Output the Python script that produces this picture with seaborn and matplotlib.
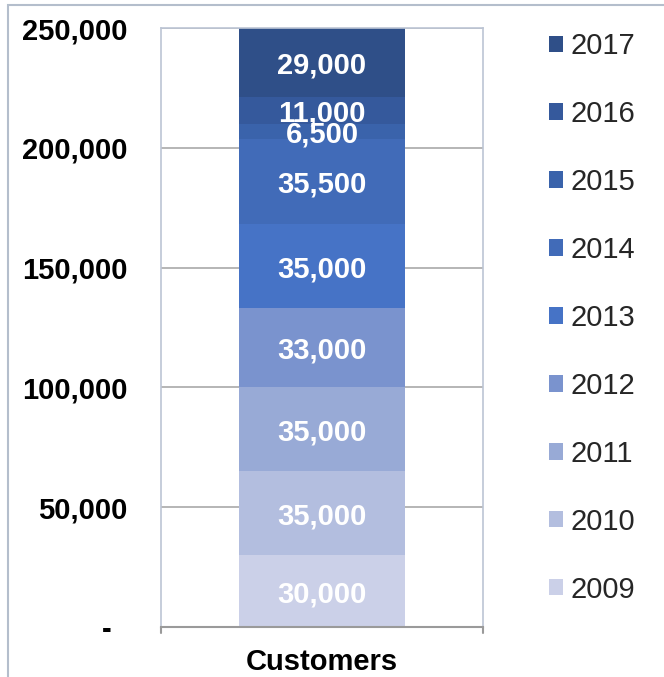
import matplotlib
matplotlib.use("Agg")
import matplotlib.pyplot as plt
from matplotlib.patches import Patch, Rectangle
from matplotlib.ticker import FuncFormatter, MultipleLocator
import seaborn as sns
import pandas as pd

# Customers added per year, stacked bottom (2009) to top (2017)
years = ["2009", "2010", "2011", "2012", "2013", "2014", "2015", "2016", "2017"]
customers = [30000, 35000, 35000, 33000, 35000, 35500, 6500, 11000, 29000]
category = "Customers"
colors = ["#CBD0E8", "#B3BEDF", "#98AAD6", "#7A93CE", "#4673C6",
          "#416BB8", "#3A63AB", "#35599C", "#2F4F88"]

sns.set_theme(style="white")
plt.rcParams["font.family"] = ["Liberation Sans", "DejaVu Sans"]

FS = 21
W, H = 664, 677
fig = plt.figure(figsize=(W / 100, H / 100), dpi=100)
ax = fig.add_axes([161 / W, 1 - 627 / H, (483 - 161) / W, (627 - 28) / H])

df = pd.DataFrame({"year": years, "customers": customers, "category": category})

bottom = 0
for year, value, col in zip(years, customers, colors):
    sub = df[df["year"] == year]
    sns.barplot(data=sub, x="category", y="customers", color=col,
                width=0.516, bottom=bottom, saturation=1, ax=ax,
                linewidth=0, errorbar=None)
    ax.text(0, bottom + value / 2, f"{value:,}", ha="center", va="center_baseline",
            color="white", fontsize=FS, fontweight="bold")
    bottom += value

ax.set_xlim(-0.5, 0.5)
ax.set_ylim(0, 250000)
ax.yaxis.set_major_locator(MultipleLocator(50000))
ax.yaxis.set_major_formatter(FuncFormatter(lambda v, p: "-  " if v == 0 else f"{int(v):,}"))
ax.grid(axis="y", color="#A9A9A9", linewidth=1.2)
ax.set_axisbelow(True)

ax.set_xlabel("")
ax.set_ylabel("")
ax.set_xticks([0])
ax.set_xticklabels([category])
ax.tick_params(axis="x", length=0, labelsize=FS, pad=15)
ax.tick_params(axis="y", length=0, labelsize=FS, pad=24)
for lab in ax.get_xticklabels() + ax.get_yticklabels():
    lab.set_fontweight("bold")
    lab.set_color("black")

for side in ["left", "right", "top"]:
    ax.spines[side].set_color("#BCC5D4")
    ax.spines[side].set_linewidth(1.2)
ax.spines["bottom"].set_color("#9A9A9A")
ax.spines["bottom"].set_linewidth(1.5)

# Small ticks hanging below the category axis at both ends
for xv in (-0.5, 0.5):
    ax.plot([xv, xv], [0, -2500], color="#9A9A9A", linewidth=1.5,
            clip_on=False, transform=ax.transData)

handles = [Patch(facecolor=c, edgecolor="none", label=y)
           for y, c in zip(years, colors)][::-1]
fig.legend(handles=handles, loc="upper left", bbox_to_anchor=(549 / W, 1 - 32 / H),
           frameon=False, fontsize=FS, handlelength=0.48, handleheight=0.48,
           handletextpad=0.25, labelspacing=1.37, borderpad=0, borderaxespad=0)

# Thin frame around the chart area
fig.patches.append(Rectangle((8 / W, -0.1), 1.2, 1 - 5 / H + 0.1,
                             transform=fig.transFigure, fill=False,
                             edgecolor="#B4BECC", linewidth=1.5))

fig.savefig("out.png", dpi=100)
